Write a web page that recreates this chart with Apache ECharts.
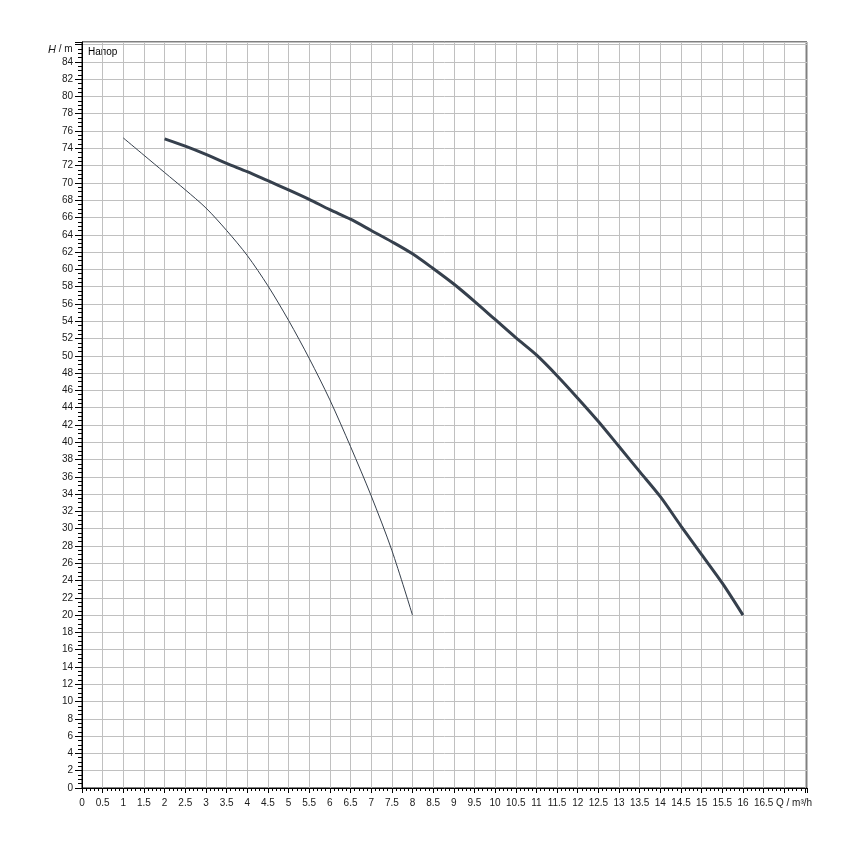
<!DOCTYPE html>
<html>
<head>
<meta charset="utf-8">
<title>Напор</title>
<script src="https://cdn.jsdelivr.net/npm/echarts@6/dist/echarts.min.js"></script>
<style>
  html, body { margin: 0; padding: 0; background: #fff; }
  #chart { width: 850px; height: 850px; }
</style>
</head>
<body>
<div id="chart"></div>
<script>
// расход Q, m³/h
const qSmall = [1, 1.5, 2, 2.5, 3, 3.5, 4, 4.5, 5, 5.5, 6, 6.5, 7, 7.5, 8];
// напор H, m (тонкая кривая)
const hSmall = [75.2, 73.2, 71.2, 69.2, 67.1, 64.5, 61.6, 58.1, 54.1, 49.7, 44.9, 39.5, 33.8, 27.5, 20.0];

const qLarge = [2, 2.5, 3, 3.5, 4, 4.5, 5, 5.5, 6, 6.5, 7, 7.5, 8, 8.5, 9, 9.5, 10,
  10.5, 11, 11.5, 12, 12.5, 13, 13.5, 14, 14.5, 15, 15.5, 16];
// напор H, m (толстая кривая)
const hLarge = [75.1, 74.25, 73.3, 72.25, 71.3, 70.25, 69.2, 68.1, 66.9, 65.8, 64.5, 63.2, 61.8,
  60.1, 58.3, 56.3, 54.2, 52.1, 50.1, 47.7, 45.1, 42.4, 39.5, 36.6, 33.7, 30.3, 27.0, 23.7, 20.0];

const xLabelMax = 16.5;
const yLabelMax = 84;

const pairs = (xs, ys) => xs.map((x, i) => [x, ys[i]]);

const chart = echarts.init(document.getElementById('chart'));
const lineColor = '#36404d';
const font = 'Liberation Sans, Arial, sans-serif';

chart.setOption({
  animation: false,
  backgroundColor: '#fff',
  grid: {
    left: 82, right: 43, top: 42, bottom: 62,
    show: true, borderColor: '#000', borderWidth: 1
  },
  xAxis: {
    type: 'value',
    min: 0, max: 17.55, interval: 0.5,
    axisLine: { show: true, onZero: false, lineStyle: { color: '#000', width: 1 } },
    axisTick: { show: true, length: 5, lineStyle: { color: '#000' } },
    minorTick: { show: true, splitNumber: 5, length: 3, lineStyle: { color: '#000' } },
    splitLine: { show: true, lineStyle: { color: '#c0c0c0', width: 1 } },
    axisLabel: {
      color: '#1a1a1a', fontFamily: font, fontSize: 10, margin: 10,
      showMaxLabel: false,
      formatter: v => (v > xLabelMax + 1e-6 ? '' : String(+v.toFixed(1)))
    }
  },
  yAxis: {
    type: 'value',
    min: 0, max: 86.3, interval: 2,
    axisLine: { show: true, onZero: false, lineStyle: { color: '#000', width: 1 } },
    axisTick: { show: true, length: 7, lineStyle: { color: '#000' } },
    minorTick: { show: true, splitNumber: 4, length: 4, lineStyle: { color: '#000' } },
    splitLine: { show: true, lineStyle: { color: '#c0c0c0', width: 1 } },
    axisLabel: {
      color: '#1a1a1a', fontFamily: font, fontSize: 10, margin: 9,
      showMaxLabel: false,
      formatter: v => (v > yLabelMax + 1e-6 ? '' : String(v))
    }
  },
  graphic: [
    {
      type: 'text', left: 48, top: 44,
      style: {
        text: '{i|H} / m',
        font: '10px ' + font, fill: '#1a1a1a',
        rich: { i: { fontStyle: 'italic', fontFamily: font, fontSize: 11, fill: '#1a1a1a' } }
      }
    },
    {
      type: 'text', left: 88, top: 47,
      style: { text: 'Напор', font: '10px ' + font, fill: '#000' }
    },
    {
      type: 'text', left: 776, top: 798,
      style: { text: 'Q / m³/h', font: '10px ' + font, fill: '#1a1a1a' }
    }
  ],
  series: [
    {
      type: 'line', name: 'small',
      data: pairs(qSmall, hSmall),
      showSymbol: false, smooth: 0.3,
      lineStyle: { color: lineColor, width: 1 }
    },
    {
      type: 'line', name: 'large',
      data: pairs(qLarge, hLarge),
      showSymbol: false, smooth: 0.3,
      lineStyle: { color: lineColor, width: 3 }
    }
  ]
});
</script>
</body>
</html>
